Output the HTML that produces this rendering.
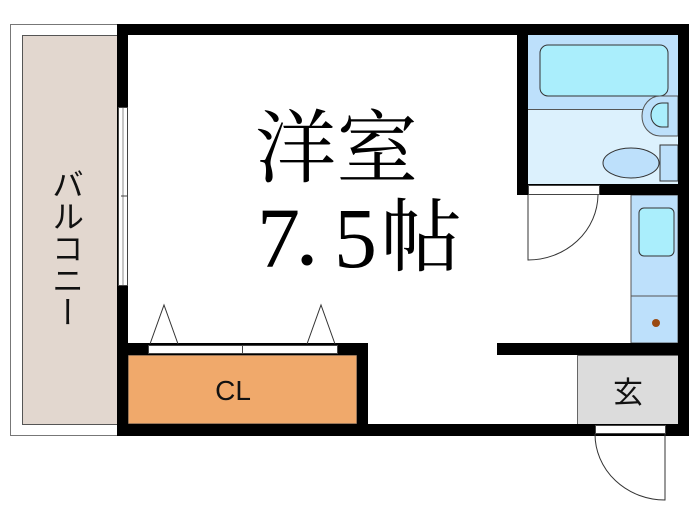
<!DOCTYPE html>
<html><head><meta charset="utf-8"><style>body{margin:0;background:#fff}svg{display:block}</style></head><body>
<svg width="700" height="525" viewBox="0 0 700 525" xmlns="http://www.w3.org/2000/svg">
<rect width="700" height="525" fill="#fff"/>
<!-- balcony -->
<rect x="10.5" y="24.5" width="108" height="411" fill="#fff" stroke="#777" stroke-width="1"/>
<rect x="22.5" y="35.5" width="96" height="389" fill="#e2d7cf" stroke="#555" stroke-width="1"/>
<text x="66" y="168" font-family="'Liberation Sans','Noto Sans CJK JP',sans-serif" font-size="32" fill="#111" text-anchor="start" writing-mode="tb">バルコニー</text>
<!-- bathroom -->
<rect x="528" y="35" width="150" height="75" fill="#bde0fb"/>
<rect x="528" y="110" width="150" height="74" fill="#dcf1fd"/>
<line x1="528" y1="109.5" x2="645" y2="109.5" stroke="#555"/>
<rect x="540" y="45" width="128" height="51" rx="8" fill="#aaeefc" stroke="#333" stroke-width="1"/>
<path d="M678 96 H660 A18 20 0 0 0 660 136 H678 Z" fill="#bde0fb" stroke="#555"/>
<path d="M668 103 H662 A11 12 0 0 0 662 127 H668 Z" fill="#aaeefc" stroke="#333"/>
<ellipse cx="631" cy="163" rx="28" ry="15" fill="#bde0fb" stroke="#333"/>
<rect x="660" y="145" width="18" height="36" fill="#bde0fb" stroke="#333"/>
<!-- kitchen -->
<rect x="631" y="195" width="47" height="148" fill="#bde0fb" stroke="#555"/>
<line x1="631" y1="296" x2="678" y2="296" stroke="#555"/>
<rect x="639" y="208" width="35" height="48" rx="5" fill="#aaeefc" stroke="#333"/>
<circle cx="656" cy="323" r="4" fill="#9a4a12"/>
<!-- genkan -->
<rect x="577.5" y="355.5" width="101" height="69" fill="#dcdcdc" stroke="#666"/>
<text x="628" y="403" font-family="'Liberation Sans','Noto Sans CJK JP',sans-serif" font-size="30" fill="#111" text-anchor="middle">玄</text>
<!-- CL -->
<rect x="128" y="355" width="229" height="69" fill="#f0a96b" stroke="#444"/>
<text x="233" y="400" font-family="'Liberation Sans',sans-serif" font-size="28" fill="#111" text-anchor="middle">CL</text>
<!-- walls -->
<g fill="#000">
<rect x="117" y="24" width="411" height="11"/>
<rect x="517" y="24" width="172" height="11"/>
<rect x="117" y="24" width="11" height="412"/>
<rect x="517" y="24" width="11" height="171"/>
<rect x="678" y="24" width="11" height="412"/>
<rect x="517" y="184" width="172" height="11"/>
<rect x="497" y="343" width="192" height="12"/>
<rect x="117" y="343" width="251" height="12"/>
<rect x="357" y="343" width="11" height="93"/>
<rect x="117" y="424" width="572" height="12"/>
</g>
<!-- window -->
<rect x="118.5" y="107.5" width="9" height="178" fill="#fff" stroke="#444"/>
<line x1="121" y1="196" x2="127" y2="196" stroke="#444"/>
<line x1="123" y1="107" x2="123" y2="285" stroke="#444" stroke-width="0.6"/>
<!-- closet doors -->
<rect x="148.5" y="345.5" width="94" height="8" fill="#fff" stroke="#444"/>
<rect x="242.5" y="345.5" width="95" height="8" fill="#fff" stroke="#444"/>
<path d="M150 344 L164 305 L178 344" fill="none" stroke="#333"/>
<path d="M307 344 L321 305 L335 344" fill="none" stroke="#333"/>
<!-- bath door -->
<rect x="528.5" y="185.5" width="71" height="9" fill="#fff" stroke="#444"/>
<path d="M528 195 V260 A70 66 0 0 0 598 195" fill="none" stroke="#333"/>
<!-- entrance door -->
<rect x="595.5" y="425.5" width="70" height="8" fill="#fff" stroke="#444"/>
<path d="M665 434 V500 A70 66 0 0 1 595 434" fill="none" stroke="#333"/>
<!-- title -->
<g font-family="'Liberation Serif','Noto Serif CJK SC',serif" fill="#000">
<text x="255" y="176" font-size="80" textLength="163" lengthAdjust="spacingAndGlyphs">洋室</text>
<text x="257" y="267" font-size="86">7</text>
<circle cx="307" cy="260" r="5.5"/>
<text x="334" y="267" font-size="86">5</text>
<text x="380" y="265" font-size="80" textLength="82" lengthAdjust="spacingAndGlyphs">帖</text>
</g>
</svg>
</body></html>
